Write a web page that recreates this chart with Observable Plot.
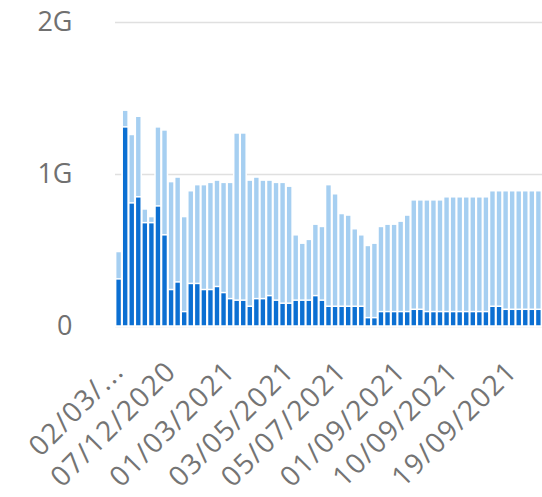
<!DOCTYPE html>
<html><head><meta charset="utf-8">
<script src="https://cdn.jsdelivr.net/npm/d3@7"></script>
<script src="https://cdn.jsdelivr.net/npm/@observablehq/plot@0.6"></script>
<style>
body{margin:0;background:#fff} svg{display:block}
g[aria-label="x-axis tick label"] text{letter-spacing:1.5px}
</style>
</head><body><div id="chart"></div>
<script>
const dates = [
  "02/03/2020","15/04/2020","20/05/2020","24/06/2020","29/07/2020","02/09/2020","07/10/2020","11/11/2020",
  "07/12/2020","14/12/2020","21/12/2020","04/01/2021","11/01/2021","18/01/2021","25/01/2021","01/02/2021","15/02/2021",
  "01/03/2021","08/03/2021","15/03/2021","22/03/2021","29/03/2021","05/04/2021","12/04/2021","19/04/2021","26/04/2021",
  "03/05/2021","10/05/2021","17/05/2021","24/05/2021","31/05/2021","07/06/2021","21/06/2021","28/06/2021",
  "05/07/2021","12/07/2021","19/07/2021","26/07/2021","02/08/2021","09/08/2021","16/08/2021","23/08/2021","30/08/2021",
  "01/09/2021","02/09/2021","03/09/2021","04/09/2021","06/09/2021","07/09/2021","08/09/2021","09/09/2021",
  "10/09/2021","11/09/2021","12/09/2021","13/09/2021","14/09/2021","15/09/2021","16/09/2021","17/09/2021","18/09/2021",
  "19/09/2021","20/09/2021","21/09/2021","22/09/2021","23/09/2021"
];
// values in G
const totalG = [
  0.49,1.42,1.26,1.38,0.77,0.72,1.31,1.29,0.95,0.98,
  0.72,0.89,0.93,0.93,0.945,0.96,0.945,0.945,1.27,1.27,
  0.96,0.98,0.96,0.96,0.945,0.945,0.92,0.60,0.545,0.57,
  0.67,0.655,0.93,0.87,0.74,0.73,0.64,0.60,0.53,0.545,
  0.655,0.67,0.67,0.69,0.73,0.83,0.83,0.83,0.83,0.83,
  0.85,0.85,0.85,0.85,0.85,0.85,0.85,
  0.89,0.89,0.89,0.89,0.89,0.89,0.89,0.89
];
const partG = [
  0.31,1.31,0.81,0.85,0.68,0.68,0.79,0.60,0.24,0.29,
  0.095,0.28,0.28,0.24,0.24,0.26,0.22,0.18,0.17,0.17,
  0.13,0.18,0.18,0.20,0.17,0.15,0.15,0.17,0.17,0.17,
  0.20,0.17,0.13,0.13,0.13,0.13,0.13,0.13,0.055,0.055,
  0.095,0.095,0.095,0.095,0.095,0.11,0.11,0.095,0.095,0.095,
  0.095,0.095,0.095,0.095,0.095,0.095,0.095,
  0.13,0.13,0.11,0.11,0.11,0.11,0.11,0.11
];
const tickDates = ["02/03/2020","07/12/2020","01/03/2021","03/05/2021","05/07/2021","01/09/2021","10/09/2021","19/09/2021"];
const tickLabels = ["02/03/...","07/12/2020","01/03/2021","03/05/2021","05/07/2021","01/09/2021","10/09/2021","19/09/2021"];
const yTicks = [0, 1e9, 2e9];
const yTickLabels = ["0", "1G", "2G"];

const data = dates.map((d, i) => ({date: d, total: totalG[i] * 1e9, part: partG[i] * 1e9}));

const chart = Plot.plot({
  width: 542, height: 497,
  marginLeft: 115, marginRight: 0, marginTop: 22, marginBottom: 171,
  style: {fontFamily: "'Open Sans', sans-serif", color: "#707070", background: "#fff", overflow: "visible"},
  x: {type: "band", domain: dates, padding: 0.1, axis: null},
  y: {domain: [0, 2e9], axis: null},
  marks: [
    Plot.gridY(yTicks, {stroke: "#e0e0e0", strokeOpacity: 1, strokeWidth: 1.5}),
    Plot.barY(data, {x: "date", y: "total", fill: "#a6cff1", stroke: "#fff", strokeWidth: 1.5}),
    Plot.barY(data, {x: "date", y: "part", fill: "#0b6fd2", stroke: "#fff", strokeWidth: 1.5}),
    Plot.axisY(yTicks, {tickSize: 0, tickPadding: 43, fontSize: 27, fill: "#707070", label: null,
      tickFormat: d => yTickLabels[yTicks.indexOf(d)]}),
    Plot.axisX(tickDates, {tickSize: 0, tickRotate: -45, tickPadding: 40, fontSize: 28, fill: "#747474", label: null,
      tickFormat: d => tickLabels[tickDates.indexOf(d)]})
  ]
});
document.getElementById("chart").appendChild(chart);
</script>
</body></html>
